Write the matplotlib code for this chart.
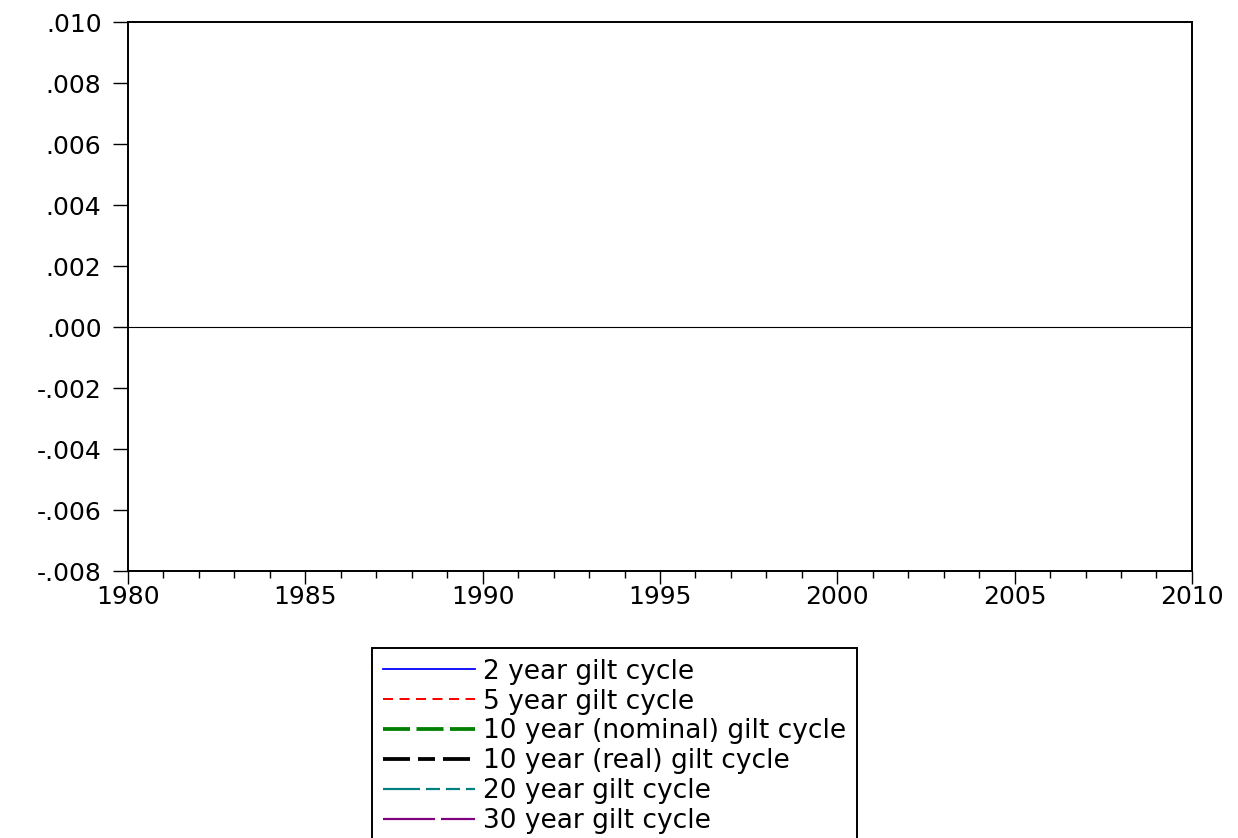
import matplotlib
matplotlib.use('Agg')
import matplotlib.pyplot as plt
from matplotlib.ticker import MultipleLocator, FuncFormatter

# EViews text is wide, DejaVu Sans is the closest wide face available
plt.rcParams['font.family'] = ['DejaVu Sans']
plt.rcParams['lines.scale_dashes'] = False

# series shown in the legend (the chart itself holds no data points)
series_names = ['2 year gilt cycle', '5 year gilt cycle',
                '10 year (nominal) gilt cycle', '10 year (real) gilt cycle',
                '20 year gilt cycle', '30 year gilt cycle']
series_colors = ['#0000ff', '#ff0000', '#008000', '#000000', '#008080', '#800080']
series_years = [[] for _ in series_names]
series_values = [[] for _ in series_names]

x_range = (1980, 2010)
y_range = (-0.008, 0.010)

PX = 0.72  # pixels -> points at dpi 100

fig = plt.figure(figsize=(12.38, 8.38), dpi=100)
ax = fig.add_axes([0.1034, 0.3186, 0.8594, 0.6551])

styles = [
    dict(lw=1.8 * PX, ls='-'),
    dict(lw=2.0 * PX, ls=(0, (10 * PX, 6.5 * PX))),
    dict(lw=3.8 * PX, ls=(0, (27 * PX, 6.5 * PX))),
    dict(lw=3.8 * PX, ls=(0, (27 * PX, 8 * PX, 17 * PX, 8 * PX))),
    dict(lw=2.2 * PX, ls=(0, (37 * PX, 6 * PX, 14 * PX, 6 * PX, 14 * PX, 6 * PX))),
    dict(lw=2.2 * PX, ls=(0, (52 * PX, 6 * PX))),
]
for name, col, st, xs, ys in zip(series_names, series_colors, styles,
                                 series_years, series_values):
    ax.plot(xs, ys, color=col, label=name, **st)

ax.axhline(0, color='black', lw=0.8)

ax.set_xlim(*x_range)
ax.set_ylim(*y_range)
ax.xaxis.set_major_locator(MultipleLocator(5))
ax.xaxis.set_minor_locator(MultipleLocator(1))
ax.yaxis.set_major_locator(MultipleLocator(0.002))


def yfmt(v, pos):
    s = '%.3f' % v
    if s.startswith('-0'):
        return '-' + s[2:]
    if s.startswith('0'):
        return s[1:]
    return s


ax.yaxis.set_major_formatter(FuncFormatter(yfmt))

ax.tick_params(axis='y', direction='out', length=11, width=1, pad=8,
               labelsize=18, right=False)
ax.tick_params(axis='x', which='major', direction='out', length=9, width=1,
               pad=1, labelsize=18, top=False)
ax.tick_params(axis='x', which='minor', direction='out', length=5, width=1,
               top=False)
for sp in ax.spines.values():
    sp.set_color('black')
    sp.set_linewidth(1.4)

leg = fig.legend(loc='upper left', bbox_to_anchor=(0.3005, 0.2267),
                 frameon=True, fancybox=False, framealpha=1, fontsize=19,
                 handlelength=3.5, handletextpad=0.3, labelspacing=0.15,
                 borderpad=0.4, borderaxespad=0)
leg.get_frame().set_edgecolor('black')
leg.get_frame().set_linewidth(1.4)

fig.savefig('out.png', dpi=100)
